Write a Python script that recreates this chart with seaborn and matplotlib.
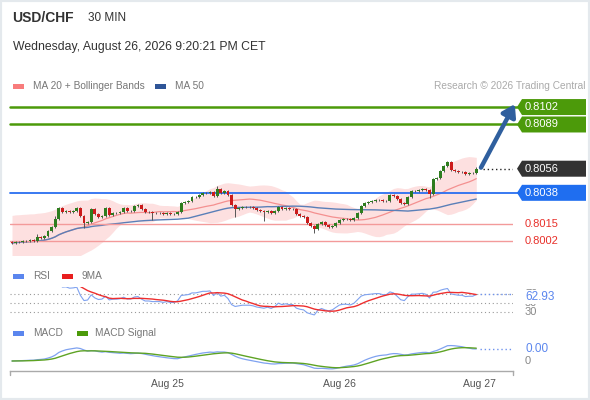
import numpy as np
import pandas as pd
import matplotlib
matplotlib.use("Agg")
import matplotlib.pyplot as plt
import matplotlib.transforms as mtransforms
from matplotlib.patches import Polygon, Rectangle
import seaborn as sns

# 30 min closes, USD/CHF (open = previous close)
closes = [0.80005, 0.80013, 0.80013, 0.80020, 0.80020, 0.80027, 0.80020, 0.80050, 0.80042, 0.80057,
          0.80095, 0.80124, 0.80184, 0.80266, 0.80236, 0.80244, 0.80236, 0.80244, 0.80266, 0.80207,
          0.80154, 0.80162, 0.80259, 0.80221, 0.80199, 0.80207, 0.80266, 0.80214, 0.80229, 0.80229,
          0.80236, 0.80266, 0.80244, 0.80244, 0.80281, 0.80289, 0.80259, 0.80236, 0.80236, 0.80229,
          0.80229, 0.80229, 0.80221, 0.80229, 0.80221, 0.80221, 0.80236, 0.80304, 0.80311, 0.80319,
          0.80348, 0.80348, 0.80363, 0.80378, 0.80378, 0.80386, 0.80356, 0.80408, 0.80378, 0.80393,
          0.80363, 0.80289, 0.80259, 0.80266, 0.80274, 0.80274, 0.80274, 0.80266, 0.80251, 0.80244,
          0.80236, 0.80244, 0.80229, 0.80244, 0.80274, 0.80259, 0.80266, 0.80259, 0.80259, 0.80221,
          0.80207, 0.80199, 0.80154, 0.80132, 0.80110, 0.80147, 0.80162, 0.80139, 0.80124, 0.80132,
          0.80154, 0.80177, 0.80184, 0.80184, 0.80177, 0.80192, 0.80229, 0.80281, 0.80304, 0.80311,
          0.80319, 0.80326, 0.80326, 0.80319, 0.80319, 0.80363, 0.80356, 0.80333, 0.80304, 0.80296,
          0.80348, 0.80393, 0.80393, 0.80401, 0.80408, 0.80401, 0.80371, 0.80483, 0.80490, 0.80542,
          0.80580, 0.80610, 0.80550, 0.80542, 0.80535, 0.80535, 0.80520, 0.80527, 0.80527, 0.80560]
first_open = 0.80010
# wicks in pips
wick_up = [1, 1, 1, 1, 1, 1, 1, 2, 1, 1,  1, 1, 2, 1, 1, 1, 1, 1, 1, 1,
           1, 1, 1, 1, 1, 1, 1, 1, 1, 1,  1, 1, 1, 1, 1, 1, 1, 1, 1, 1,
           1, 1, 1, 1, 1, 1, 1, 1, 1, 1,  1, 1, 1, 1, 1, 1, 1, 2, 1, 1,
           1, 1, 1, 1, 1, 1, 1, 1, 1, 1,  1, 1, 1, 1, 1, 1, 1, 1, 1, 1,
           1, 1, 1, 1, 1, 1, 1, 1, 1, 1,  1, 1, 1, 1, 1, 1, 1, 1, 1, 1,
           1, 1, 1, 1, 1, 1, 1, 1, 1, 1,  1, 1, 1, 1, 1, 1, 1, 1, 1, 1,
           1, 1, 1, 1, 1, 1, 1, 1, 1, 1]
wick_dn = [1, 1, 1, 1, 1, 1, 1, 1, 1, 1,  1, 1, 1, 1, 1, 1, 1, 1, 1, 1,
           4, 1, 1, 1, 1, 1, 1, 1, 1, 1,  1, 1, 1, 1, 1, 1, 1, 1, 1, 5,
           1, 1, 1, 1, 1, 1, 1, 1, 1, 1,  1, 1, 1, 1, 1, 1, 1, 1, 1, 1,
           1, 1, 6, 1, 1, 1, 1, 1, 1, 1,  7, 1, 1, 1, 1, 1, 1, 1, 1, 1,
           1, 1, 1, 1, 3, 1, 1, 1, 1, 1,  1, 1, 1, 1, 1, 1, 1, 1, 1, 1,
           1, 1, 1, 1, 1, 1, 1, 1, 1, 1,  1, 1, 1, 1, 1, 1, 3, 1, 1, 1,
           1, 1, 1, 1, 1, 1, 1, 1, 1, 1]

resistances = [0.8102, 0.8089]
pivot = 0.8038
supports = [0.8015, 0.8002]
last_price = 0.8056
day_ticks = [43.3, 91.1, 130.0]
day_labels = ["Aug 25", "Aug 26", "Aug 27"]
rsi_levels = [70, 50, 30]
rsi_label = "62.93"
macd_label = "0.00"

df = pd.DataFrame({"close": closes})
df["i"] = np.arange(len(df))
df["open"] = df["close"].shift(1).fillna(first_open)
pip = 0.0001
df["high"] = df[["open", "close"]].max(axis=1) + np.array(wick_up) * pip
df["low"] = df[["open", "close"]].min(axis=1) - np.array(wick_dn) * pip

df["ma20"] = df["close"].rolling(20, min_periods=1).mean()
sd = df["close"].rolling(20, min_periods=20).std().bfill()
df["bb_up"] = df["ma20"] + 2 * sd
df["bb_dn"] = df["ma20"] - 2 * sd
df["ma50"] = df["close"].rolling(50, min_periods=1).mean()

delta = df["close"].diff().fillna(0)
gain = delta.clip(lower=0).ewm(alpha=1 / 14, adjust=True, min_periods=14).mean()
loss = (-delta.clip(upper=0)).ewm(alpha=1 / 14, adjust=True, min_periods=14).mean()
df["rsi"] = (100 - 100 / (1 + gain / loss)).bfill()
df["rsi_ma"] = df["rsi"].rolling(9, min_periods=1).mean()

ema12 = df["close"].ewm(span=12, adjust=False).mean()
ema26 = df["close"].ewm(span=26, adjust=False).mean()
df["macd"] = ema12 - ema26
df["signal"] = df["macd"].ewm(span=9, adjust=False).mean()

sns.set_style("white")
plt.rcParams["font.family"] = ["Liberation Sans", "DejaVu Sans"]

W, H = 590, 400
fig = plt.figure(figsize=(W / 100, H / 100), dpi=100)
fig.patch.set_facecolor("white")


def box(top, bottom):
    return [10 / W, 1 - bottom / H, 503 / W, (bottom - top) / H]


ax = fig.add_axes(box(95, 255))
ax_rsi = fig.add_axes(box(287, 316.5))
ax_macd = fig.add_axes(box(343, 371))
xlim = (-0.56, 139.2)
for a in (ax, ax_rsi, ax_macd):
    a.set_xlim(*xlim)
    a.set_facecolor("none")
    for s in a.spines.values():
        s.set_visible(False)
    a.set_xticks([])
    a.set_yticks([])

# price panel
ax.set_ylim(0.79916, 0.81110)
ax.fill_between(df["i"], df["bb_dn"], df["bb_up"], color="#fde0e0", lw=0, zorder=1)
sns.lineplot(x=df["i"], y=df["ma20"], ax=ax, color="#f49090", lw=0.9, zorder=2)
sns.lineplot(x=df["i"], y=df["ma50"], ax=ax, color="#5a7fb8", lw=1.0, zorder=2)

bt = mtransforms.blended_transform_factory(ax.transAxes, ax.transData)
for lv in resistances:
    ax.plot([0, 1.01], [lv, lv], transform=bt, color="#4c9a0a", lw=1.8, clip_on=False, zorder=3)
ax.plot([0, 1.01], [pivot, pivot], transform=bt, color="#2a6ef0", lw=1.3, clip_on=False, zorder=3)
for lv in supports:
    ax.plot([0, 1.0], [lv, lv], transform=bt, color="#f39a9a", lw=1.0, zorder=3)

up = df["close"] >= df["open"]
colors = np.where(up, "#2e7d1f", "#cc1b1b")
ax.vlines(df["i"], df["low"], df["high"], color="#555555", lw=0.7, zorder=4)
body = (df["close"] - df["open"]).abs().clip(lower=0.000012)
ax.bar(df["i"], body, bottom=df[["open", "close"]].min(axis=1), width=0.8,
       color=colors, lw=0, zorder=5)

px = 1 / 503
ph = 1 / 13400


def tag(y, text, color):
    pts = [(1.0 + 4 * px, y), (1 + 9 * px, y + 8 * ph), (1 + 73 * px, y + 8 * ph),
           (1 + 73 * px, y - 8 * ph), (1 + 9 * px, y - 8 * ph)]
    ax.add_patch(Polygon(pts, closed=True, transform=bt, facecolor=color,
                         edgecolor="none", clip_on=False, zorder=6))
    ax.text(1 + 12 * px, y, text, transform=bt, color="white", va="center",
            ha="left", fontsize=8, zorder=7)


for lv in resistances:
    tag(lv, f"{lv:.4f}", "#4c9a0a")
tag(last_price, f"{last_price:.4f}", "#333333")
tag(pivot, f"{pivot:.4f}", "#1f6ef0")
for lv in supports:
    ax.text(1 + 12 * px, lv, f"{lv:.4f}", transform=bt, color="#e8302a",
            va="center", ha="left", fontsize=8)

ax.plot([df["i"].iloc[-1] + 2, xlim[1]], [last_price, last_price], color="#222222",
        lw=1, ls=(0, (1, 2)), zorder=3)
ax.annotate("", xy=(139.7, 0.81042), xytext=(130.3, 0.80568),
            arrowprops=dict(arrowstyle="-|>,head_length=0.7,head_width=0.45",
                            color="#2f5f9e", lw=3.2, shrinkA=0, shrinkB=0),
            annotation_clip=False, zorder=8)

# RSI panel
ax_rsi.set_ylim(20, 85)
rt = mtransforms.blended_transform_factory(ax_rsi.transAxes, ax_rsi.transData)
for lv in rsi_levels:
    ax_rsi.axhline(lv, color="#999999", lw=0.8, ls=(0, (1, 2.5)))
    ax_rsi.text(1 + 12 * px, lv, str(lv), transform=rt, color="#888888", va="center",
                fontsize=8, clip_on=False)
sns.lineplot(x=df["i"], y=df["rsi"], ax=ax_rsi, color="#7fa2f0", lw=0.8)
sns.lineplot(x=df["i"], y=df["rsi_ma"], ax=ax_rsi, color="#ee2e2e", lw=1.0)
rl = df["rsi"].iloc[-1]
ax_rsi.plot([df["i"].iloc[-1] + 1, xlim[1]], [rl, rl], color="#6f93ee", lw=1, ls=(0, (1, 2)))
ax_rsi.text(1 + 12 * px, 62.93, rsi_label, transform=rt, color="#5b86ee", va="center",
            fontsize=8.5, bbox=dict(facecolor="white", edgecolor="none", pad=0.5),
            clip_on=False)
ax_rsi.set_xlabel("")
ax_rsi.set_ylabel("")

# MACD panel: zero at 10 px above the axis line, last value 12 px above zero
sns.lineplot(x=df["i"], y=df["macd"], ax=ax_macd, color="#7fa2f0", lw=0.9)
sns.lineplot(x=df["i"], y=df["signal"], ax=ax_macd, color="#5ea324", lw=1.0)
ml = df["macd"].iloc[-1]
unit = abs(ml) / 12
ax_macd.set_ylim(-10 * unit, 18 * unit)
ax_macd.plot([df["i"].iloc[-1] + 1, xlim[1]], [ml, ml], color="#6f93ee", lw=1, ls=(0, (1, 2)))
mt = mtransforms.blended_transform_factory(ax_macd.transAxes, ax_macd.transData)
ax_macd.text(1 + 12 * px, ml, macd_label, transform=mt, color="#5b86ee", va="center",
             fontsize=8.5, clip_on=False)
ax_macd.text(1 + 12 * px, 0, "0", transform=mt, color="#888888", va="center",
             fontsize=8, clip_on=False)
ax_macd.spines["bottom"].set_visible(True)
ax_macd.spines["bottom"].set_color("#aaaaaa")
ax_macd.spines["bottom"].set_linewidth(1)
for xe in (0, 1):
    ax_macd.plot([xe, xe], [0, -0.16], transform=ax_macd.transAxes, color="#aaaaaa",
                 lw=1, clip_on=False)
ax_macd.set_xticks(day_ticks, day_labels)
ax_macd.tick_params(axis="x", length=0, pad=6, labelsize=7.5, labelcolor="#555555")
ax_macd.set_xlabel("")
ax_macd.set_ylabel("")
ax.set_xlabel("")
ax.set_ylabel("")


# header and legends
def ftext(x, y, s, **kw):
    fig.text(x / W, 1 - y / H, s, va="center", ha=kw.pop("ha", "left"), **kw)


def swatch(x, y, color):
    fig.patches.append(Rectangle((x / W, 1 - (y + 2.5) / H), 11 / W, 5 / H,
                                 transform=fig.transFigure, facecolor=color,
                                 edgecolor="none"))


ftext(12, 18, "USD/CHF", fontsize=10, fontweight="bold", color="#333333")
ftext(88, 18, "30 MIN", fontsize=8.5, color="#333333")
ftext(13, 47, "Wednesday, August 26, 2026 9:20:21 PM CET", fontsize=8.8, color="#333333")
swatch(13, 86, "#f87c7c")
ftext(33, 86, "MA 20 + Bollinger Bands", fontsize=7.3, color="#777777")
swatch(155, 86, "#2f5597")
ftext(175, 86, "MA 50", fontsize=7.3, color="#777777")
ftext(585, 86, "Research \u00a9 2026 Trading Central", fontsize=7.3, color="#aaaaaa", ha="right")
swatch(13, 276, "#5b86ee")
ftext(33, 276, "RSI", fontsize=7.3, color="#777777")
swatch(62, 276, "#e81e1e")
ftext(82, 276, "9MA", fontsize=7.3, color="#777777")
swatch(13, 333, "#5b86ee")
ftext(33, 333, "MACD", fontsize=7.3, color="#777777")
swatch(77, 333, "#4c9a0a")
ftext(95, 333, "MACD Signal", fontsize=7.3, color="#777777")

fig.patches.append(Rectangle((0, 0), 1, 1, transform=fig.transFigure, fill=False,
                             edgecolor="#e4e9ed", lw=3))

fig.savefig("out.png", dpi=100)
